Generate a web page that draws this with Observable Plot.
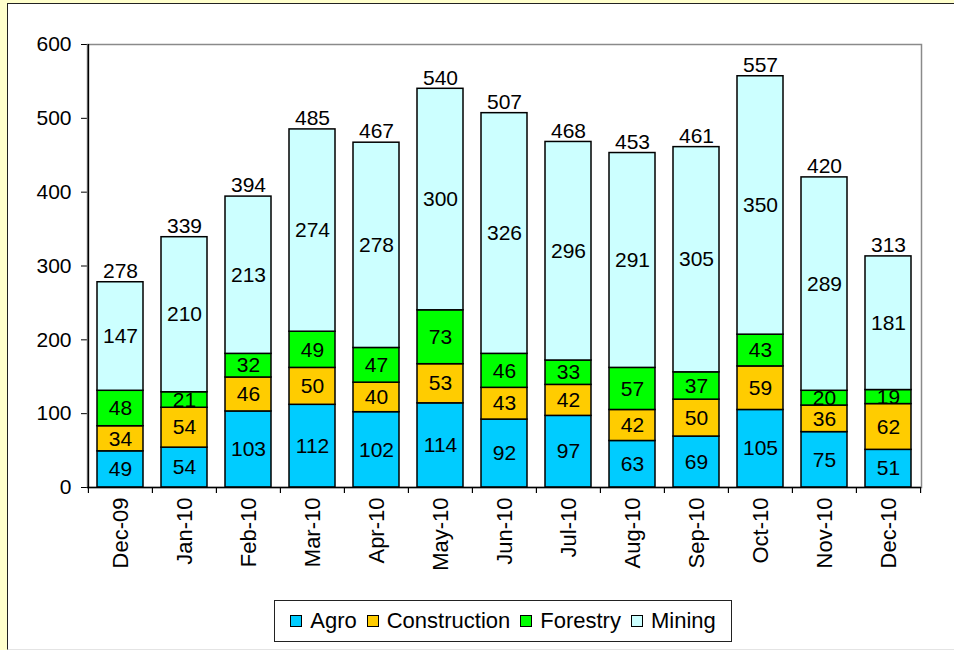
<!DOCTYPE html>
<html>
<head>
<meta charset="utf-8">
<script src="https://cdn.jsdelivr.net/npm/d3@7"></script>
<script src="https://cdn.jsdelivr.net/npm/@observablehq/plot@0.6"></script>
<style>
  html, body { margin: 0; padding: 0; }
  body { background: #FFFFCC; width: 954px; height: 650px; overflow: hidden; position: relative; font-family: "Liberation Sans", Arial, sans-serif; }
  #panel { position: absolute; left: 7px; top: 3px; width: 960px; height: 645px; background: #fff; border: 1.5px solid #222; border-right: none; border-bottom: 1px solid #e4e4e4; }
  #chart { position: absolute; left: 0; top: 0; }
  #legend { position: absolute; left: 274px; top: 600px; width: 458px; height: 42px; border: 1px solid #222; background: #fff;
            display: flex; align-items: center; justify-content: center; gap: 10px; font-size: 22px; color: #000; box-sizing: border-box; }
  .item { display: flex; align-items: center; gap: 8px; }
  .sw { width: 10px; height: 10px; border: 1.5px solid #000; }
  #chart svg g[aria-label="x-axis tick label"] text { font-size: 22px; }
</style>
</head>
<body>
<div id="panel"></div>
<div id="chart"></div>
<div id="legend"></div>
<script>
const months = ["Dec-09","Jan-10","Feb-10","Mar-10","Apr-10","May-10","Jun-10","Jul-10","Aug-10","Sep-10","Oct-10","Nov-10","Dec-10"];
const sectors = ["Agro","Construction","Forestry","Mining"];
const colors = ["#00CCFF","#FFCC00","#00FF00","#CCFFFF"];
const agro = [49,54,103,112,102,114,92,97,63,69,105,75,51];
const construction = [34,54,46,50,40,53,43,42,42,50,59,36,62];
const forestry = [48,21,32,49,47,73,46,33,57,37,43,20,19];
const mining = [147,210,213,274,278,300,326,296,291,305,350,289,181];
const totals = [278,339,394,485,467,540,507,468,453,461,557,420,313];
const yTicks = [0,100,200,300,400,500,600];

const series = [agro, construction, forestry, mining];
const data = [];
months.forEach((m, i) => sectors.forEach((s, k) => data.push({month: m, sector: s, value: series[k][i]})));
const totalData = months.map((m, i) => ({month: m, total: totals[i]}));

const W = 954, mL = 87, mR = 33, mT = 44, mB = 93, H = 580;
const step = (W - mL - mR) / months.length;

const plot = Plot.plot({
  width: W, height: H,
  marginLeft: mL, marginRight: mR, marginTop: mT, marginBottom: mB,
  style: {fontFamily: "'Liberation Sans', Arial, sans-serif", fontSize: "21px", color: "#000", background: "transparent", overflow: "visible"},
  x: {domain: months, paddingInner: 0.28, paddingOuter: 0.14, tickSize: 0, tickPadding: 10, tickRotate: -90, label: null},
  y: {domain: [0, 600], ticks: yTicks, tickSize: 6, tickPadding: 10, label: null},
  color: {domain: sectors, range: colors},
  marks: [
    Plot.frame({stroke: "#8a8a8a", strokeWidth: 1.5}),
    Plot.barY(data, Plot.stackY({x: "month", y: "value", fill: "sector", stroke: "#000", strokeWidth: 1.5})),
    Plot.text(data, Plot.stackY({x: "month", y: "value", text: "value", fill: "#000", fontSize: 21})),
    Plot.text(totalData, {x: "month", y: "total", text: "total", dy: -11, fill: "#000", fontSize: 21}),
    Plot.ruleY([0], {stroke: "#000", strokeWidth: 1.5}),
    Plot.ruleX([months[0]], {stroke: "#000", strokeWidth: 1.5, dx: -step / 2}),
    Plot.ruleX(months, {x: d => d, y1: 0, y2: 0, insetBottom: -6, dx: -step / 2, stroke: "#000", strokeWidth: 1.2}),
    Plot.ruleX([months[months.length - 1]], {x: d => d, y1: 0, y2: 0, insetBottom: -6, dx: step / 2, stroke: "#000", strokeWidth: 1.2})
  ]
});
document.getElementById("chart").appendChild(plot);

const legend = document.getElementById("legend");
sectors.forEach((s, k) => {
  const item = document.createElement("div");
  item.className = "item";
  const sw = document.createElement("div");
  sw.className = "sw";
  sw.style.background = colors[k];
  const lab = document.createElement("span");
  lab.textContent = s;
  item.appendChild(sw); item.appendChild(lab);
  legend.appendChild(item);
});
</script>
</body>
</html>
